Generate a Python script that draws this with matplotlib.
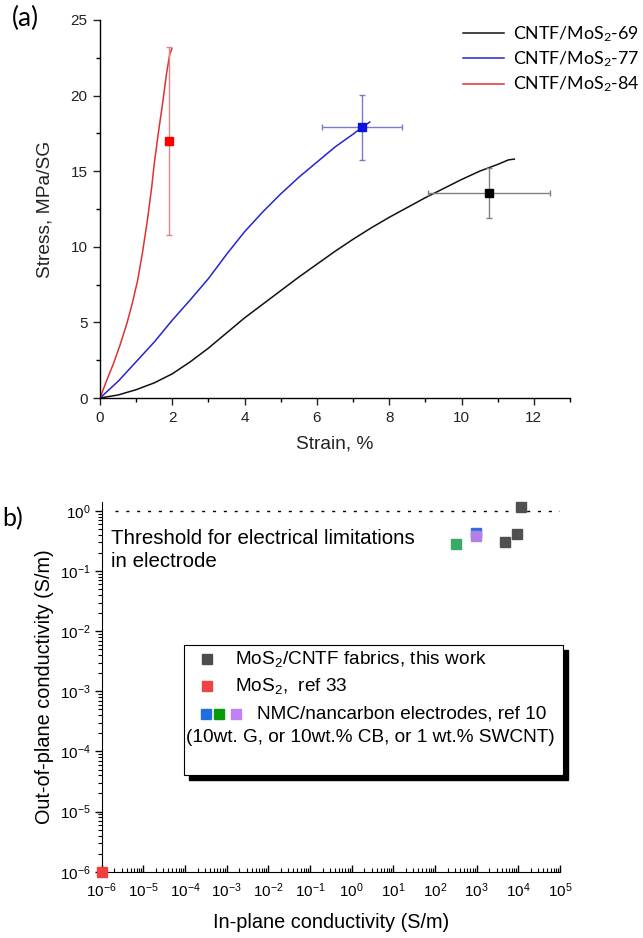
import matplotlib
matplotlib.use("Agg")
import matplotlib.pyplot as plt
from matplotlib.patches import Rectangle
from matplotlib.lines import Line2D
from matplotlib.ticker import MultipleLocator, LogLocator, NullFormatter

# ---------------- (a) stress-strain curves ----------------
strain_69 = [0, 0.5, 1, 1.5, 2, 2.5, 3, 3.5, 4, 4.5, 5, 5.5, 6, 6.5, 7, 7.5,
             8, 8.5, 9, 9.5, 10, 10.5, 11, 11.3, 11.46]
stress_69 = [0, 0.2, 0.55, 1.0, 1.6, 2.4, 3.3, 4.3, 5.3, 6.2, 7.1, 8.0, 8.85,
             9.7, 10.5, 11.25, 11.95, 12.6, 13.25, 13.85, 14.45, 15.0, 15.45,
             15.75, 15.8]

strain_77 = [0, 0.5, 1, 1.5, 2, 2.5, 3, 3.5, 4, 4.5, 5, 5.5, 6, 6.5, 7, 7.25, 7.46]
stress_77 = [0, 1.1, 2.4, 3.7, 5.15, 6.5, 7.9, 9.5, 11.0, 12.3, 13.5, 14.6,
             15.6, 16.6, 17.45, 17.9, 18.25]

strain_84 = [0, 0.185, 0.37, 0.55, 0.74, 0.89, 1.04, 1.17, 1.31, 1.43, 1.50,
             1.61, 1.73, 1.84, 1.93, 1.99]
stress_84 = [0, 1.16, 2.26, 3.47, 4.9, 6.23, 7.77, 9.54, 11.74, 13.94, 15.49,
             17.47, 19.46, 21.44, 22.76, 23.1]

# mean failure point +/- standard deviation
fail_strain = [10.76, 7.25, 1.9]
fail_strain_err = [1.7, 1.1, 0.0]
fail_stress = [13.55, 17.9, 17.0]
fail_stress_err = [1.65, 2.15, 6.2]

labels_a = ["CNTF/MoS$\\mathregular{_2}$-69", "CNTF/MoS$\\mathregular{_2}$-77",
            "CNTF/MoS$\\mathregular{_2}$-84"]
line_colors = ["#111111", "#2424d4", "#e03030"]
mark_colors = ["#000000", "#1010e0", "#ff0000"]
err_colors = ["#808080", "#7a7ad0", "#d88888"]

# ---------------- (b) conductivity map ----------------
inplane_this = [4.8e3, 9.5e3, 1.17e4]
outplane_this = [0.30, 0.41, 1.18]
inplane_mos2 = [1e-6]
outplane_mos2 = [1e-6]
inplane_G, outplane_G = [960], [0.43]
inplane_CB, outplane_CB = [316], [0.28]
inplane_SWCNT, outplane_SWCNT = [960], [0.39]
threshold = 1.0

W, H = 643, 938
fig = plt.figure(figsize=(W / 100, H / 100), dpi=100)
plt.rcParams['font.family'] = ['Liberation Sans', 'DejaVu Sans']
plt.rcParams['mathtext.default'] = 'regular'


def fx(px):
    return px / W


def fy(py):
    return 1 - py / H


# ---- panel (a) ----
ax = fig.add_axes([fx(100), fy(398), (570 - 100) / W, (398 - 20) / H])
for sx, sy, c, lab in zip([strain_69, strain_77, strain_84],
                          [stress_69, stress_77, stress_84], line_colors, labels_a):
    ax.plot(sx, sy, color=c, lw=1.1, label=lab)
for i in range(3):
    ax.errorbar(fail_strain[i], fail_stress[i],
                xerr=fail_strain_err[i] if fail_strain_err[i] > 0 else None,
                yerr=fail_stress_err[i], fmt='s', ms=6, mfc=mark_colors[i],
                mec=mark_colors[i], ecolor=err_colors[i], elinewidth=1.0,
                capsize=2.5, capthick=1.0, zorder=4)
ax.set_xlim(0, 13)
ax.set_ylim(0, 25)
ax.xaxis.set_major_locator(MultipleLocator(2))
ax.xaxis.set_minor_locator(MultipleLocator(1))
ax.yaxis.set_major_locator(MultipleLocator(5))
ax.yaxis.set_minor_locator(MultipleLocator(2.5))
for s in ['top', 'right']:
    ax.spines[s].set_visible(False)
for s in ['left', 'bottom']:
    ax.spines[s].set_linewidth(1.0)
ax.tick_params(which='major', direction='out', length=5, width=1.0, labelsize=11,
               pad=4, colors='#222222')
ax.tick_params(which='minor', direction='out', length=3, width=1.0)
ax.set_xlabel("Strain, %", fontsize=13.8, labelpad=8, color='#222222')
ax.set_ylabel("Stress, MPa/SG", fontsize=13.8, labelpad=12, color='#222222')
leg = ax.legend(loc='upper left', bbox_to_anchor=(fx(463), fy(24)),
                bbox_transform=fig.transFigure, frameon=False,
                prop={'family': 'Lato', 'size': 12.8}, handlelength=2.3,
                handletextpad=0.5, labelspacing=0.32, borderpad=0,
                borderaxespad=0)
fig.text(fx(12), fy(18), "(a)", fontsize=19, family='Lato', va='center', ha='left')

# ---- panel (b) ----
bx = fig.add_axes([fx(101.7), fy(871.7), (560 - 101.7) / W, (871.7 - 501.7) / H])
bx.set_xscale('log')
bx.set_yscale('log')
bx.set_xlim(1e-6, 1e5)
bx.set_ylim(1e-6, 1.43)
bx.hlines(threshold, 2.1e-6, 1.2e5, colors='black', lw=1.0,
          linestyles=(0, (2.2, 5.6)), zorder=2)
sq = dict(marker='s', ms=7.2, ls='none', zorder=3, clip_on=False)
bx.plot(inplane_CB, outplane_CB, color='#3aaa6a', **sq)
bx.plot(inplane_G, outplane_G, color='#2a6ee0', **sq)
bx.plot(inplane_SWCNT, outplane_SWCNT, color='#b57ee6', **sq)
bx.plot(inplane_this, outplane_this, color='#505050', **sq)
bx.plot(inplane_mos2, outplane_mos2, color='#ee4040', **sq)

for s in ['top', 'right']:
    bx.spines[s].set_visible(False)
bx.xaxis.set_major_locator(LogLocator(base=10, numticks=20))
bx.xaxis.set_minor_locator(LogLocator(base=10, subs=range(2, 10), numticks=20))
bx.yaxis.set_major_locator(LogLocator(base=10, numticks=20))
bx.yaxis.set_minor_locator(LogLocator(base=10, subs=range(2, 10), numticks=20))
bx.xaxis.set_minor_formatter(NullFormatter())
bx.yaxis.set_minor_formatter(NullFormatter())
bx.tick_params(axis='x', which='major', direction='in', length=5, width=1.0,
               labelsize=11, pad=7)
bx.tick_params(axis='x', which='minor', direction='in', length=3, width=0.8)
bx.tick_params(axis='y', which='major', direction='out', length=5, width=1.0,
               labelsize=11, pad=3)
bx.tick_params(axis='y', which='minor', direction='out', length=3, width=0.8)
bx.set_xlabel("In-plane conductivity (S/m)", fontsize=14.3, labelpad=9)
bx.set_ylabel("Out-of-plane conductivity (S/m)", fontsize=14.3, labelpad=4)

bx.text(fx(111), fy(550), "Threshold for electrical limitations\nin electrode",
        transform=fig.transFigure, fontsize=14.8, va='center', ha='left',
        linespacing=1.25)

fig.text(fx(2), fy(519), "b)", fontsize=18, family='Lato', va='center', ha='left')

# framed key with drop shadow
x0, x1, y0, y1 = 184, 563, 645, 775
fig.add_artist(Rectangle((fx(x0 + 5), fy(y1 + 5)), (x1 - x0) / W, (y1 - y0) / H,
                         transform=fig.transFigure, facecolor='black',
                         edgecolor='black', zorder=5))
fig.add_artist(Rectangle((fx(x0), fy(y1)), (x1 - x0) / W, (y1 - y0) / H,
                         transform=fig.transFigure, facecolor='white',
                         edgecolor='black', lw=0.8, zorder=6))


def key_square(px, py, color):
    fig.add_artist(Line2D([fx(px)], [fy(py)], marker='s', ms=7.2, color=color,
                          ls='none', transform=fig.transFigure, zorder=7))


key_square(207, 659, '#4d4d4d')
key_square(207, 686, '#ee4444')
key_square(206, 714, '#1f6fe0')
key_square(219, 714, '#089a08')
key_square(236, 714, '#c080f8')
kt = dict(fontsize=13.7, va='center', ha='left', zorder=7)
fig.text(fx(235), fy(659), "MoS$\\mathregular{_2}$/CNTF fabrics, this work", **kt)
fig.text(fx(235), fy(686), "MoS$\\mathregular{_2}$,  ref 33", **kt)
fig.text(fx(257), fy(714), "NMC/nancarbon electrodes, ref 10", **kt)
fig.text(fx(186), fy(738), "(10wt. G, or 10wt.% CB, or 1 wt.% SWCNT)", **kt)

fig.savefig("out.png", dpi=100)
